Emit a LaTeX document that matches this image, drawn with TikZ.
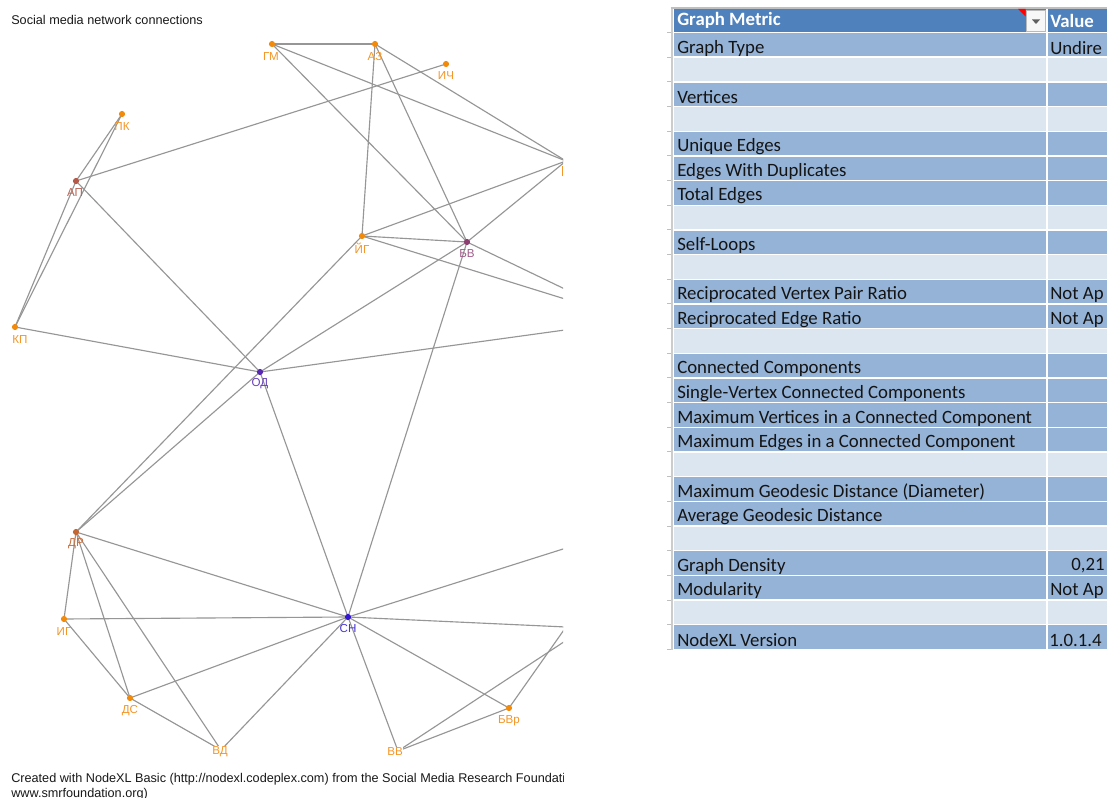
\documentclass[tikz,border=0pt]{standalone}
\usepackage{fontspec}
\setmainfont{Liberation Sans}
\newfontfamily\calfont{Carlito}
\definecolor{edgegray}{RGB}{150,150,150}
\definecolor{cOr}{RGB}{242,138,12}
\definecolor{lOr}{RGB}{244,150,40}
\definecolor{cAP}{RGB}{180,88,72}
\definecolor{lAP}{RGB}{186,100,84}
\definecolor{cBV}{RGB}{140,62,112}
\definecolor{lBV}{RGB}{160,92,140}
\definecolor{cOD}{RGB}{88,40,178}
\definecolor{lOD}{RGB}{104,62,190}
\definecolor{cSN}{RGB}{50,22,210}
\definecolor{lSN}{RGB}{72,52,220}
\definecolor{cDR}{RGB}{196,102,50}
\definecolor{lDR}{RGB}{200,112,62}
\definecolor{hdrblue}{RGB}{79,129,189}
\definecolor{rowD}{RGB}{149,179,215}
\definecolor{rowL}{RGB}{220,230,241}
\definecolor{tabtext}{RGB}{20,20,20}
\definecolor{titletext}{RGB}{25,25,25}
\tikzset{
  edge/.style={draw=edgegray, line width=0.85pt},
  vdot/.style={circle, inner sep=0pt, minimum size=4.6pt},
  vlab/.style={inner sep=0.5pt, font=\fontsize{8.7}{10}\selectfont},
  plain/.style={inner sep=0pt, anchor=west, text=titletext, font=\fontsize{9.5}{11}\selectfont},
  tab/.style={inner sep=0pt, anchor=west, text=tabtext, font=\calfont\fontsize{14.1}{16}\selectfont},
  hdr/.style={inner sep=0pt, anchor=west, text=white, font=\calfont\bfseries\fontsize{14.1}{16}\selectfont}
}
\begin{document}
\begin{tikzpicture}[x=0.75pt,y=-0.75pt]
\useasboundingbox (0,0) rectangle (1107,798);
\fill[white] (0,0) rectangle (1107,798);

% ---------------- graph -----------------
\node[plain] (title) at (11,20) {Social media network connections};

\begin{scope}
\clip (0,0) rectangle (563,798);
\coordinate (GM) at (272,44);
\coordinate (AZ) at (375,44);
\coordinate (ICH) at (446,64);
\coordinate (PK) at (122,114);
\coordinate (AP) at (76,181);
\coordinate (KP) at (15,327);
\coordinate (YG) at (362,236);
\coordinate (BV) at (467,242);
\coordinate (OD) at (260,372);
\coordinate (DR) at (76,532);
\coordinate (IG) at (64,619);
\coordinate (DS) at (130,698);
\coordinate (VD) at (221,750);
\coordinate (SN) at (348,617);
\coordinate (BVr) at (509,708);
\coordinate (VV) at (398,751);
\coordinate (R1) at (566,161);
\coordinate (R3) at (566,627);
\coordinate (o1) at (623,317);
\coordinate (o2) at (623,322);
\coordinate (o3) at (620,531);
\coordinate (o4) at (620,605);

\draw[edge] (GM) -- (AZ);
\draw[edge] (GM) -- (R1);
\draw[edge] (GM) -- (BV);
\draw[edge] (AZ) -- (R1);
\draw[edge] (AZ) -- (YG);
\draw[edge] (AZ) -- (BV);
\draw[edge] (ICH) -- (AP);
\draw[edge] (PK) -- (AP);
\draw[edge] (PK) -- (KP);
\draw[edge] (AP) -- (KP);
\draw[edge] (AP) -- (OD);
\draw[edge] (KP) -- (OD);
\draw[edge] (OD) -- (DR);
\draw[edge] (OD) -- (BV);
\draw[edge] (OD) -- (o2);
\draw[edge] (OD) -- (SN);
\draw[edge] (BV) -- (SN);
\draw[edge] (YG) -- (BV);
\draw[edge] (YG) -- (R1);
\draw[edge] (BV) -- (R1);
\draw[edge] (YG) -- (o1);
\draw[edge] (BV) -- (o1);
\draw[edge] (DR) -- (YG);
\draw[edge] (DR) -- (SN);
\draw[edge] (DR) -- (IG);
\draw[edge] (DR) -- (DS);
\draw[edge] (DR) -- (VD);
\draw[edge] (IG) -- (SN);
\draw[edge] (IG) -- (DS);
\draw[edge] (DS) -- (SN);
\draw[edge] (DS) -- (VD);
\draw[edge] (VD) -- (SN);
\draw[edge] (SN) -- (VV);
\draw[edge] (SN) -- (BVr);
\draw[edge] (SN) -- (R3);
\draw[edge] (SN) -- (o3);
\draw[edge] (BVr) -- (R3);
\draw[edge] (VV) -- (BVr);
\draw[edge] (VV) -- (o4);

\node[vdot, fill=cOr] (GMd) at (GM) {};
\node[vdot, fill=cOr] (AZd) at (AZ) {};
\node[vdot, fill=cOr] (ICHd) at (ICH) {};
\node[vdot, fill=cOr] (PKd) at (PK) {};
\node[vdot, fill=cAP] (APd) at (AP) {};
\node[vdot, fill=cOr] (KPd) at (KP) {};
\node[vdot, fill=cOr] (YGd) at (YG) {};
\node[vdot, fill=cBV] (BVd) at (BV) {};
\node[vdot, fill=cOD] (ODd) at (OD) {};
\node[vdot, fill=cDR] (DRd) at (DR) {};
\node[vdot, fill=cOr] (IGd) at (IG) {};
\node[vdot, fill=cOr] (DSd) at (DS) {};
\node[vdot, fill=cSN] (SNd) at (SN) {};
\node[vdot, fill=cOr] (BVrd) at (BVr) {};
\node[vdot, fill=cOr] (R1d) at (R1) {};
\node[vdot, fill=cOr] (R3d) at (R3) {};

\node[vlab, text=lOr] (GMl) at (271,57) {ГМ};
\node[vlab, text=lOr] (AZl) at (375,57) {АЗ};
\node[vlab, text=lOr] (ICHl) at (446,76) {ИЧ};
\node[vlab, text=lOr] (PKl) at (122,127) {ПК};
\node[vlab, text=lAP] (APl) at (75,193) {АП};
\node[vlab, text=lOr] (KPl) at (20,340) {КП};
\node[vlab, text=lOr] (YGl) at (362,248) {ЙГ};
\node[vlab, text=lBV] (BVl) at (467,254) {БВ};
\node[vlab, text=lOD] (ODl) at (260,384) {ОД};
\node[vlab, text=lDR] (DRl) at (76,544) {ДР};
\node[vlab, text=lOr] (IGl) at (64,632) {ИГ};
\node[vlab, text=lOr] (DSl) at (130,711) {ДС};
\node[vlab, text=lOr, fill=white] (VDl) at (220,752) {ВД};
\node[vlab, text=lSN] (SNl) at (348,629) {СН};
\node[vlab, text=lOr] (BVrl) at (509,721) {БВр};
\node[vlab, text=lOr, fill=white] (VVl) at (395,752) {ВВ};
\draw[lOr, line width=0.9pt] (562.4,166) -- (562.4,176);

\node[plain] (foot1) at (11,779) {Created with NodeXL Basic (http://nodexl.codeplex.com) from the Social Media Research Foundati};
\node[plain] (foot2) at (11,794) {www.smrfoundation.org)};
\end{scope}

% ---------------- table -----------------
\fill[gray!40] (670.5,8) rectangle (672.5,650);
\draw[gray!50, line width=0.8pt] (670.5,8) -- (1107,8);
\fill[hdrblue] (674,8.6) rectangle (1107,32.5);
\foreach \k/\c in {0/rowD,1/rowL,2/rowD,3/rowL,4/rowD,5/rowD,6/rowD,7/rowL,8/rowD,9/rowL,10/rowD,11/rowD,12/rowL,13/rowD,14/rowD,15/rowD,16/rowD,17/rowL,18/rowD,19/rowD,20/rowL,21/rowD,22/rowD,23/rowL,24/rowD}{
  \pgfmathsetmacro\rtop{32.5+24.67*\k}
  \pgfmathsetmacro\rbot{32.5+24.67*(\k+1)}
  \fill[\c] (674,\rtop) rectangle (1107,\rbot);
  \draw[white, line width=1pt] (674,\rtop) -- (1107,\rtop);
  \draw[gray!50, line width=0.6pt] (667,\rtop) -- (670.5,\rtop);
}
\draw[gray!50, line width=0.6pt] (667,649.7) -- (670.5,649.7);
\draw[white, line width=1.3pt] (1047,8.6) -- (1047,650);

\node[hdr] (h1) at (677,20.5) {Graph Metric};
\node[hdr] (h2) at (1050,20.5) {Value};
\fill[red] (1018,9) -- (1025.5,9) -- (1025.5,16.5) -- cycle;
\filldraw[fill=gray!6, draw=gray!55, line width=0.6pt] (1026,10.5) rectangle (1045.5,31.5);
\fill[gray!75!black] (1032,19.5) -- (1040,19.5) -- (1036,24) -- cycle;

\foreach \k/\t in {0/Graph Type,2/Vertices,4/Unique Edges,5/Edges With Duplicates,6/Total Edges,8/Self-Loops,10/Reciprocated Vertex Pair Ratio,11/Reciprocated Edge Ratio,13/Connected Components,14/Single-Vertex Connected Components,15/Maximum Vertices in a Connected Component,16/Maximum Edges in a Connected Component,18/Maximum Geodesic Distance (Diameter),19/Average Geodesic Distance,21/Graph Density,22/Modularity,24/NodeXL Version}{
  \pgfmathsetmacro\ry{32.5+24.67*\k+15.5}
  \node[tab] (m\k) at (677,\ry) {\t};
}
\begin{scope}
\clip (1048,0) rectangle (1107,798);
\node[tab] (v0) at (1050,48) {Undire};
\node[tab] (v10) at (1050,295.2) {Not Ap};
\node[tab] (v11) at (1050,319.9) {Not Ap};
\node[tab] (v21) at (1071,566.1) {0,21};
\node[tab] (v22) at (1050,590.8) {Not Ap};
\node[tab] (v24) at (1049,640.1) {1.0.1.4};
\end{scope}
\end{tikzpicture}
\end{document}
